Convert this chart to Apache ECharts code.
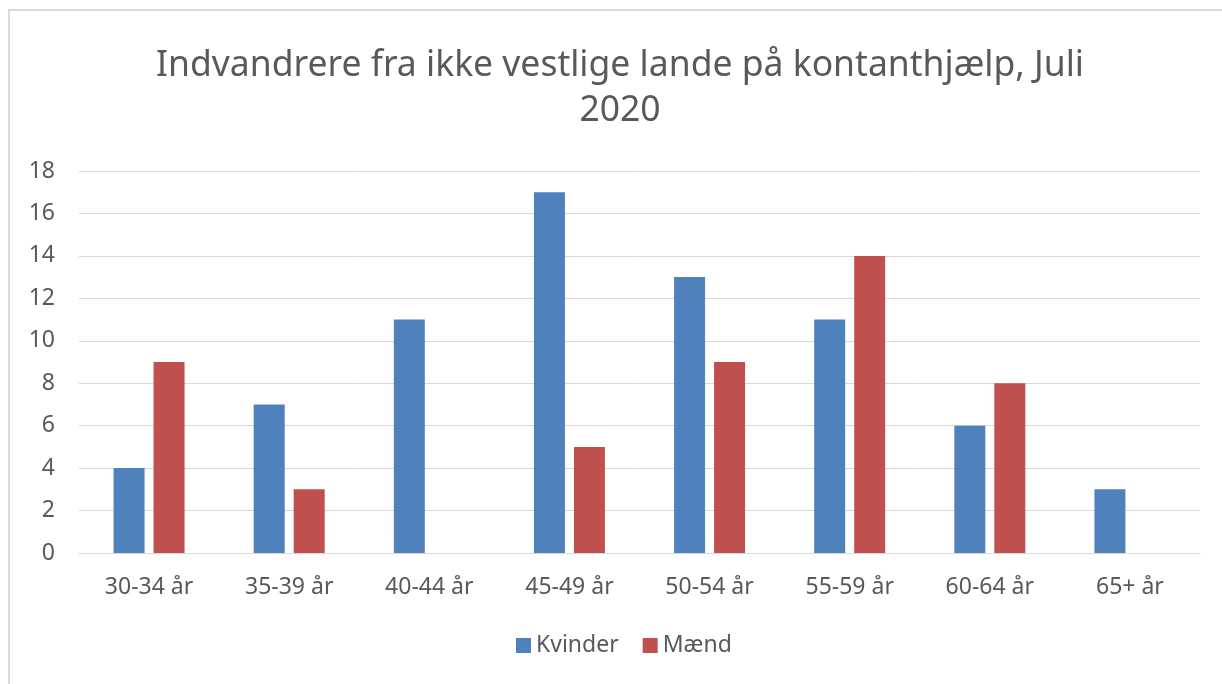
<!DOCTYPE html>
<html>
<head>
<meta charset="utf-8">
<title>Indvandrere på kontanthjælp</title>
<script src="https://cdn.jsdelivr.net/npm/echarts@6/dist/echarts.min.js"></script>
<style type="text/css">
body {
	margin: 0;
	background-color: #ffffff;
}
#chart {
	width: 1222px;
	height: 684px;
}
</style>
</head>
<body>
<div id="chart"></div>
<script type="text/javascript">
var categories = ['30-34 år', '35-39 år', '40-44 år', '45-49 år', '50-54 år', '55-59 år', '60-64 år', '65+ år'];
var kvinder = [4, 7, 11, 17, 13, 11, 6, 3];
var maend = [9, 3, 0, 5, 9, 14, 8, 0];

var myChart = echarts.init(document.getElementById('chart'));
var font = 'Noto Sans';

var option = {
	animation: false,
	graphic: [{
		type: 'rect',
		shape: { x: 9, y: 10, width: 1222, height: 690 },
		style: { fill: 'none', stroke: '#d9d9d9', lineWidth: 2 }
	}],
	title: {
		text: 'Indvandrere fra ikke vestlige lande på kontanthjælp, Juli\n2020',
		left: 615,
		textAlign: 'center',
		top: 38,
		textStyle: {
			fontFamily: font,
			fontSize: 35.5,
			fontWeight: 'normal',
			color: '#595959',
			lineHeight: 45
		}
	},
	legend: {
		data: ['Kvinder', 'Mænd'],
		bottom: 22,
		left: 511,
		itemWidth: 15,
		itemHeight: 15,
		itemGap: 24,
		icon: 'rect',
		textStyle: { fontFamily: font, fontSize: 23, color: '#595959' }
	},
	grid: {
		left: 79,
		right: 22,
		top: 171,
		bottom: 131
	},
	xAxis: {
		type: 'category',
		data: categories,
		axisLine: { lineStyle: { color: '#d9d9d9', width: 1 } },
		axisTick: { show: false },
		axisLabel: { fontFamily: font, fontSize: 23, color: '#595959', margin: 23 }
	},
	yAxis: {
		type: 'value',
		min: 0,
		max: 18,
		interval: 2,
		axisLine: { show: false },
		axisTick: { show: false },
		splitLine: { lineStyle: { color: '#d9d9d9', width: 1 } },
		axisLabel: { fontFamily: font, fontSize: 23, color: '#595959', margin: 24 }
	},
	series: [{
		name: 'Kvinder',
		type: 'bar',
		data: kvinder,
		barWidth: 31,
		barGap: '29%',
		itemStyle: { color: '#4f81bd' }
	}, {
		name: 'Mænd',
		type: 'bar',
		data: maend,
		barWidth: 31,
		itemStyle: { color: '#c0504d' }
	}]
};

myChart.setOption(option);
</script>
</body>
</html>
